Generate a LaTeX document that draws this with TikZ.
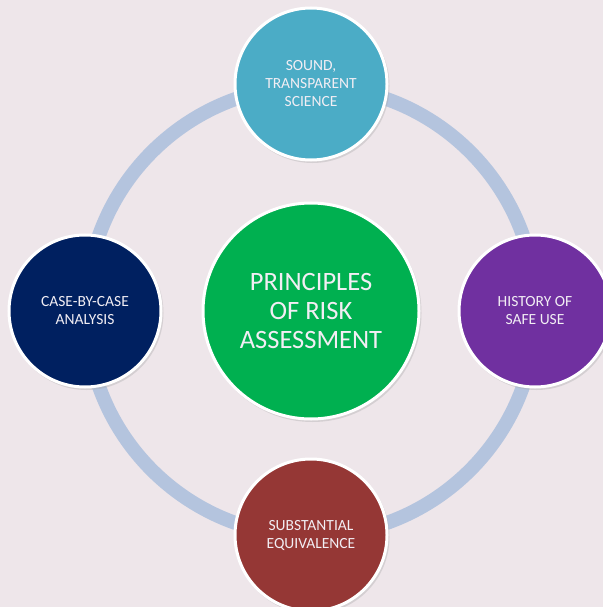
\documentclass[tikz,border=0pt]{standalone}
\usepackage{fontspec}
\setmainfont{Carlito}
\definecolor{bg}{HTML}{EEE6EA}
\definecolor{ring}{HTML}{B4C4DE}
\definecolor{ctop}{HTML}{4BACC6}
\definecolor{cleft}{HTML}{002060}
\definecolor{cright}{HTML}{7030A0}
\definecolor{cbot}{HTML}{953735}
\definecolor{cmid}{HTML}{00B050}
\definecolor{txt}{HTML}{F2EEF4}
\begin{document}
\begin{tikzpicture}[x=1bp,y=-1bp,
  bubble/.style={circle, draw=white, line width=3bp, minimum size=152bp, inner sep=0pt,
     text=txt, align=center, font=\fontsize{15.5bp}{18bp}\selectfont},
  midbubble/.style={bubble, minimum size=216bp, font=\fontsize{26.5bp}{29bp}\selectfont},
  shadowc/.style={fill=black!35, opacity=0.35}]
\fill[bg] (0,0) rectangle (603,607);
\useasboundingbox (0,0) rectangle (603,607);
\coordinate (c) at (311,311);
\draw[ring, line width=14bp] (c) circle[radius=225bp];
% shadows
\foreach \p/\r in {{(311,311)}/109,{(311,84)}/77,{(85,311)}/77,{(535,311)}/77,{(311,535)}/77}
  \fill[shadowc] \p ++(1.5,2) circle[radius=\r bp];
\node[bubble, fill=ctop] (top) at (311,84) {SOUND,\\TRANSPARENT\\SCIENCE};
\node[bubble, fill=cleft] (left) at (85,311) {CASE-BY-CASE\\ANALYSIS};
\node[bubble, fill=cright] (right) at (535,311) {HISTORY OF\\SAFE USE};
\node[bubble, fill=cbot] (bot) at (311,535) {SUBSTANTIAL\\EQUIVALENCE};
\node[midbubble, fill=cmid] (mid) at (c) {PRINCIPLES\\OF RISK\\ASSESSMENT};
\end{tikzpicture}
\end{document}
